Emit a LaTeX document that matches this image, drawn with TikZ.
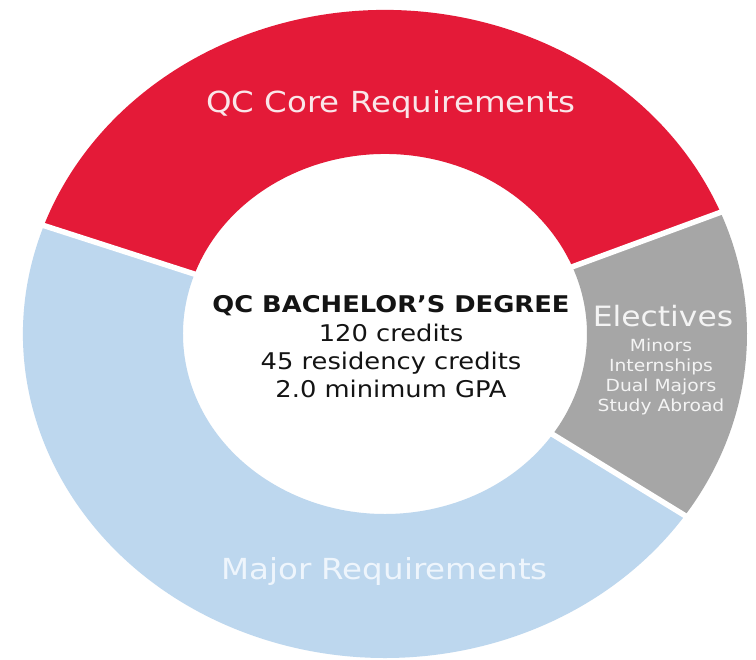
\documentclass[tikz,border=0pt]{standalone}
\usepackage{fontspec}
\setmainfont{DejaVu Sans}[FakeStretch=1.12]
\definecolor{qcred}{RGB}{228,26,56}
\definecolor{majblue}{RGB}{189,215,238}
\definecolor{elgray}{RGB}{166,166,166}
\definecolor{redtxt}{RGB}{250,230,233}
\definecolor{bluetxt}{RGB}{238,245,252}
\definecolor{graytxt}{RGB}{244,244,244}
\definecolor{centertxt}{RGB}{20,20,20}
\begin{document}
\begin{tikzpicture}[x=1pt,y=1pt,
  lbl/.style={inner sep=0pt, anchor=base},
  bigtxt/.style={lbl, font=\fontsize{29}{32}\selectfont},
  midtxt/.style={lbl, text=centertxt, font=\fontsize{23}{27}\selectfont},
  subtxt/.style={lbl, text=graytxt, font=\fontsize{16.7}{19}\selectfont},
  gap/.style={white, line width=5.5pt}]
\useasboundingbox (0,0) rectangle (756,660);
\fill[white] (0,0) rectangle (756,660);
\begin{scope}[shift={(385pt,326pt)}]
  % QC Core (red)
  \fill[qcred] (22:362pt and 324pt)
    arc[start angle=22, end angle=160.5, x radius=362pt, y radius=324pt]
    -- (160.5:202pt and 180pt)
    arc[start angle=160.5, end angle=22, x radius=202pt, y radius=180pt] -- cycle;
  % Electives (gray)
  \fill[elgray] (-34:362pt and 324pt)
    arc[start angle=-34, end angle=22, x radius=362pt, y radius=324pt]
    -- (22:202pt and 180pt)
    arc[start angle=22, end angle=-34, x radius=202pt, y radius=180pt] -- cycle;
  % Major (blue)
  \fill[majblue] (160.5:362pt and 324pt)
    arc[start angle=160.5, end angle=326, x radius=362pt, y radius=324pt]
    -- (326:202pt and 180pt)
    arc[start angle=326, end angle=160.5, x radius=202pt, y radius=180pt] -- cycle;
  % white gaps
  \foreach \a in {22,160.5,-34}
    \draw[gap] (\a:195pt and 173pt) -- (\a:372pt and 334pt);
\end{scope}
% labels
\node[bigtxt, text=redtxt] (core) at (391,547) {QC Core Requirements};
\node[bigtxt, text=bluetxt] (major) at (384.5,80) {Major Requirements};
\node[midtxt, font=\fontsize{23}{27}\selectfont\bfseries] (degree) at (391,347) {QC BACHELOR’S DEGREE};
\node[midtxt] (credits) at (391,318) {120 credits};
\node[midtxt] (residency) at (391,290) {45 residency credits};
\node[midtxt] (gpa) at (391,262) {2.0 minimum GPA};
\node[lbl, text=graytxt, font=\fontsize{28}{32}\selectfont] (electives) at (663,333) {Electives};
\node[subtxt] (minors) at (661,308) {Minors};
\node[subtxt] (intern) at (661,288) {Internships};
\node[subtxt] (dual) at (661,268) {Dual Majors};
\node[subtxt] (abroad) at (661,248) {Study Abroad};
\end{tikzpicture}
\end{document}
